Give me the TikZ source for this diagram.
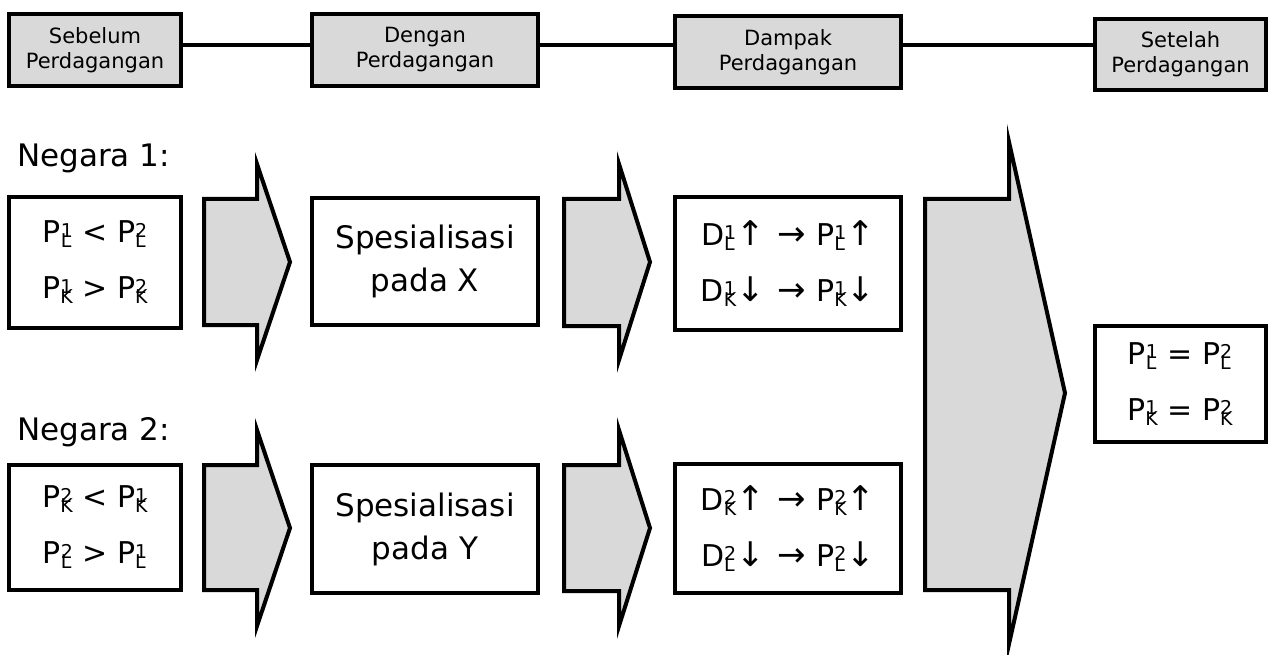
\documentclass[tikz,border=0pt]{standalone}
\usepackage{fontspec}
\setmainfont{DejaVu Sans}
\usetikzlibrary{positioning}
\definecolor{abu}{RGB}{217,217,217}
\tikzstyle{tahap}=[draw, fill=abu, line width=4pt, align=center, inner sep=0pt, font=\fontsize{21}{25}\selectfont]
\tikzstyle{kotak}=[draw, line width=4pt, align=center, inner sep=0pt, font=\fontsize{30}{56}\selectfont]
\tikzstyle{judul}=[anchor=base west, inner sep=0pt, font=\fontsize{31}{31}\selectfont]
\tikzstyle{blok}=[draw, fill=abu, line width=4pt]
\tikzstyle{garis}=[line width=4pt]
\newcommand{\ix}[2]{\raisebox{-5pt}{\fontsize{19}{19}\selectfont\vbox{\offinterlineskip\hbox{#1}\kern-3pt\hbox{#2}}}}
\newcommand{\pn}[1]{{\fontsize{34}{34}\selectfont #1}}

\begin{document}
\begin{tikzpicture}[x=1pt, y=-1pt]
	\useasboundingbox (0,0) rectangle (1271,655);
	% tahapan
	\node[tahap, minimum width=172pt, minimum height=72pt] (b1) at (95,50) {Sebelum\\Perdagangan};
	\node[tahap, minimum width=226pt, minimum height=72pt] (b2) at (425,50) {Dengan\\Perdagangan};
	\node[tahap, minimum width=226pt, minimum height=72pt] (b3) at (788,52) {Dampak\\Perdagangan};
	\node[tahap, minimum width=171pt, minimum height=71pt] (b4) at (1180.5,54.5) {Setelah\\Perdagangan};
	\draw[garis] ([yshift=5pt]b1.east) -- ([yshift=5pt]b2.west);
	\draw[garis] ([yshift=5pt]b2.east) -- ([yshift=5pt]b2.east -| b3.west);
	\draw[garis] ([yshift=7pt]b3.east) -- ([yshift=7pt]b3.east -| b4.west);

	% negara 1
	\node[judul] (n1) at (17,167) {Negara 1:};
	\node[kotak, minimum width=172pt, minimum height=131pt] (p1) at (95,262.5) {P\ix{1}{L} < P\ix{2}{L}\\P\ix{1}{K} > P\ix{2}{K}};
	\node[kotak, minimum width=226pt, minimum height=127pt, font=\fontsize{31}{43}\selectfont] (s1) at (425,261.5) {Spesialisasi\\pada X};
	\node[kotak, minimum width=226pt, minimum height=133pt] (d1) at (788,263.5) {D\ix{1}{L}\pn{↑}\hspace{13pt}\pn{→}\hspace{10pt}P\ix{1}{L}\pn{↑}\\D\ix{1}{K}\pn{↓}\hspace{13pt}\pn{→}\hspace{10pt}P\ix{1}{K}\pn{↓}};
	\draw[blok] (204,199) -- (257,199) -- (257,164) -- (290,262) -- (257,360) -- (257,325) -- (204,325) -- cycle;
	\draw[blok] (564,199) -- (619,199) -- (619,164) -- (650,262) -- (619,360) -- (619,326) -- (564,326) -- cycle;

	% negara 2
	\node[judul] (n2) at (17,440) {Negara 2:};
	\node[kotak, minimum width=172pt, minimum height=125pt] (p2) at (95,527.5) {P\ix{2}{K} < P\ix{1}{K}\\P\ix{2}{L} > P\ix{1}{L}};
	\node[kotak, minimum width=226pt, minimum height=128pt, font=\fontsize{31}{43}\selectfont] (s2) at (425,529) {Spesialisasi\\pada Y};
	\node[kotak, minimum width=226pt, minimum height=129pt] (d2) at (788,528.5) {D\ix{2}{K}\pn{↑}\hspace{13pt}\pn{→}\hspace{10pt}P\ix{2}{K}\pn{↑}\\D\ix{2}{L}\pn{↓}\hspace{13pt}\pn{→}\hspace{10pt}P\ix{2}{L}\pn{↓}};
	\draw[blok] (204,465) -- (257,465) -- (257,430) -- (290,528) -- (257,626) -- (257,590) -- (204,590) -- cycle;
	\draw[blok] (564,465) -- (619,465) -- (619,430) -- (650,528) -- (619,626) -- (619,591) -- (564,591) -- cycle;

	% hasil
	\draw[blok] (925,199) -- (1009,199) -- (1009,142) -- (1065,393) -- (1009,644) -- (1009,590) -- (925,590) -- cycle;
	\node[kotak, minimum width=171pt, minimum height=116pt] (h) at (1180,384) {P\ix{1}{L} = P\ix{2}{L}\\P\ix{1}{K} = P\ix{2}{K}};
\end{tikzpicture}
\end{document}
